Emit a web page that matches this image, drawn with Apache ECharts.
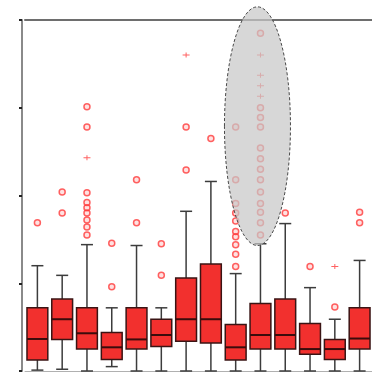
<!DOCTYPE html>
<html>
<head>
<meta charset="utf-8">
<script src="https://cdn.jsdelivr.net/npm/echarts@6/dist/echarts.min.js"></script>
<style>
  html, body { margin: 0; padding: 0; background: #fff; }
  #main { width: 372px; height: 376px; }
</style>
</head>
<body>
<div id="main"></div>
<script>
// 箱线图数据
var categories = ['1', '2', '3', '4', '5', '6', '7', '8', '9', '10', '11', '12', '13', '14'];
var lows    = [0.01, 0.02, 0.00, 0.05, 0.00, 0.00, 0.00, 0.00, 0.00, 0.00, 0.00, 0.00, 0.00, 0.00];
var q1s     = [0.125, 0.36, 0.25, 0.13, 0.25, 0.28, 0.34, 0.32, 0.125, 0.25, 0.25, 0.19, 0.13, 0.25];
var medians = [0.365, 0.59, 0.43, 0.27, 0.36, 0.41, 0.59, 0.59, 0.27, 0.41, 0.41, 0.25, 0.25, 0.37];
var q3s     = [0.72, 0.82, 0.72, 0.44, 0.72, 0.59, 1.06, 1.22, 0.53, 0.77, 0.82, 0.54, 0.36, 0.72];
var highs   = [1.20, 1.09, 1.44, 0.72, 1.43, 0.72, 1.82, 2.16, 1.11, 1.45, 1.68, 0.95, 0.59, 1.26];

// 离群点（圆圈）
var circleOutliers = [
	[1.69],
	[2.04, 1.80],
	[3.01, 2.78, 2.03, 1.92, 1.86, 1.80, 1.72, 1.64, 1.55],
	[1.455, 0.96],
	[2.18, 1.69],
	[1.45, 1.09],
	[2.78, 2.29],
	[2.65],
	[2.78, 2.18, 1.91, 1.80, 1.71, 1.59, 1.53, 1.44, 1.33, 1.19],
	[3.85, 3.00, 2.89, 2.78, 2.54, 2.42, 2.30, 2.18, 2.04, 1.91, 1.81, 1.69, 1.55],
	[1.80],
	[1.19],
	[0.73],
	[1.81, 1.69]
];
// 离群点（加号）
var plusOutliers = [
	[], [], [2.43], [], [], [], [3.60], [], [], [3.60, 3.37, 3.25, 3.13], [], [], [1.19], []
];

var yTicks = [0, 1, 2, 3, 4];

var boxData = categories.map(function(c, i) {
	return [i, lows[i], q1s[i], medians[i], q3s[i], highs[i]];
});

function flatten(list) {
	var out = [];
	list.forEach(function(vals, i) {
		vals.forEach(function(v) { out.push([i, v]); });
	});
	return out;
}

function renderBox(params, api) {
	var i = api.value(0);
	var band = api.size([1, 0])[0];
	var bw = band * 0.84;
	var cw = 12;
	var x = api.coord([i, 0])[0];
	var yLow = api.coord([i, api.value(1)])[1];
	var yQ1 = api.coord([i, api.value(2)])[1];
	var yMed = api.coord([i, api.value(3)])[1];
	var yQ3 = api.coord([i, api.value(4)])[1];
	var yHigh = api.coord([i, api.value(5)])[1];
	var whisker = { stroke: '#3c3c3c', lineWidth: 1.5 };
	return {
		type: 'group',
		children: [
			{ type: 'line', shape: { x1: x, y1: yHigh, x2: x, y2: yQ3 }, style: whisker },
			{ type: 'line', shape: { x1: x, y1: yQ1, x2: x, y2: yLow }, style: whisker },
			{ type: 'line', shape: { x1: x - cw / 2, y1: yHigh, x2: x + cw / 2, y2: yHigh }, style: whisker },
			{ type: 'line', shape: { x1: x - cw / 2, y1: yLow, x2: x + cw / 2, y2: yLow }, style: whisker },
			{ type: 'rect', shape: { x: x - bw / 2, y: yQ3, width: bw, height: yQ1 - yQ3 },
				style: { fill: '#f2302e', stroke: '#3a1414', lineWidth: 1.5 } },
			{ type: 'line', shape: { x1: x - bw / 2, y1: yMed, x2: x + bw / 2, y2: yMed },
				style: { stroke: '#3a0c0c', lineWidth: 2 } }
		]
	};
}

var chart = echarts.init(document.getElementById('main'));

var option = {
	animation: false,
	backgroundColor: '#fff',
	grid: { left: 25, top: 20, width: 350, height: 351 },
	xAxis: [{
		type: 'category',
		data: categories,
		position: 'bottom',
		axisLine: { lineStyle: { color: '#b0b0b0', width: 1 } },
		axisTick: { alignWithLabel: true, length: 5, lineStyle: { color: '#555' } },
		axisLabel: { show: false },
		splitLine: { show: false }
	}, {
		type: 'category',
		data: categories,
		position: 'top',
		axisLine: { lineStyle: { color: '#6e6e6e', width: 2 } },
		axisTick: { show: false },
		axisLabel: { show: false }
	}],
	yAxis: {
		type: 'value',
		min: 0,
		max: 4,
		interval: 1,
		offset: 3,
		axisLine: { show: true, lineStyle: { color: '#8a8a8a', width: 2 } },
		axisTick: { show: true, length: 3, lineStyle: { color: '#222', width: 2 } },
		axisLabel: { show: false },
		splitLine: { show: false }
	},
	series: [{
		type: 'custom',
		renderItem: renderBox,
		data: boxData,
		z: 2
	}, {
		type: 'scatter',
		data: flatten(circleOutliers),
		symbol: 'circle',
		symbolSize: 6,
		itemStyle: { color: 'rgba(255,70,70,0.2)', borderColor: '#ff3b3b', borderWidth: 1.5 },
		z: 3
	}, {
		type: 'scatter',
		data: flatten(plusOutliers),
		symbol: 'path://M0,2H3V0H4V2H7V3H4V5H3V3H0Z',
		symbolSize: [7, 5],
		itemStyle: { color: '#ff3b3b' },
		z: 3
	}]
};

chart.setOption(option);

// 灰色椭圆高亮
var ellCenter = chart.convertToPixel({ xAxisIndex: 0, yAxisIndex: 0 }, [9, 2.79]);
var ellTop = chart.convertToPixel({ xAxisIndex: 0, yAxisIndex: 0 }, [9, 2.79 + 1.36]);
chart.setOption({
	graphic: [{
		type: 'ellipse',
		z: 100,
		shape: { cx: ellCenter[0] - 3, cy: ellCenter[1], rx: 33, ry: ellCenter[1] - ellTop[1] },
		style: { fill: 'rgba(200,200,200,0.72)', stroke: '#4a4a4a', lineWidth: 1, lineDash: [3, 2] }
	}]
});
</script>
</body>
</html>
